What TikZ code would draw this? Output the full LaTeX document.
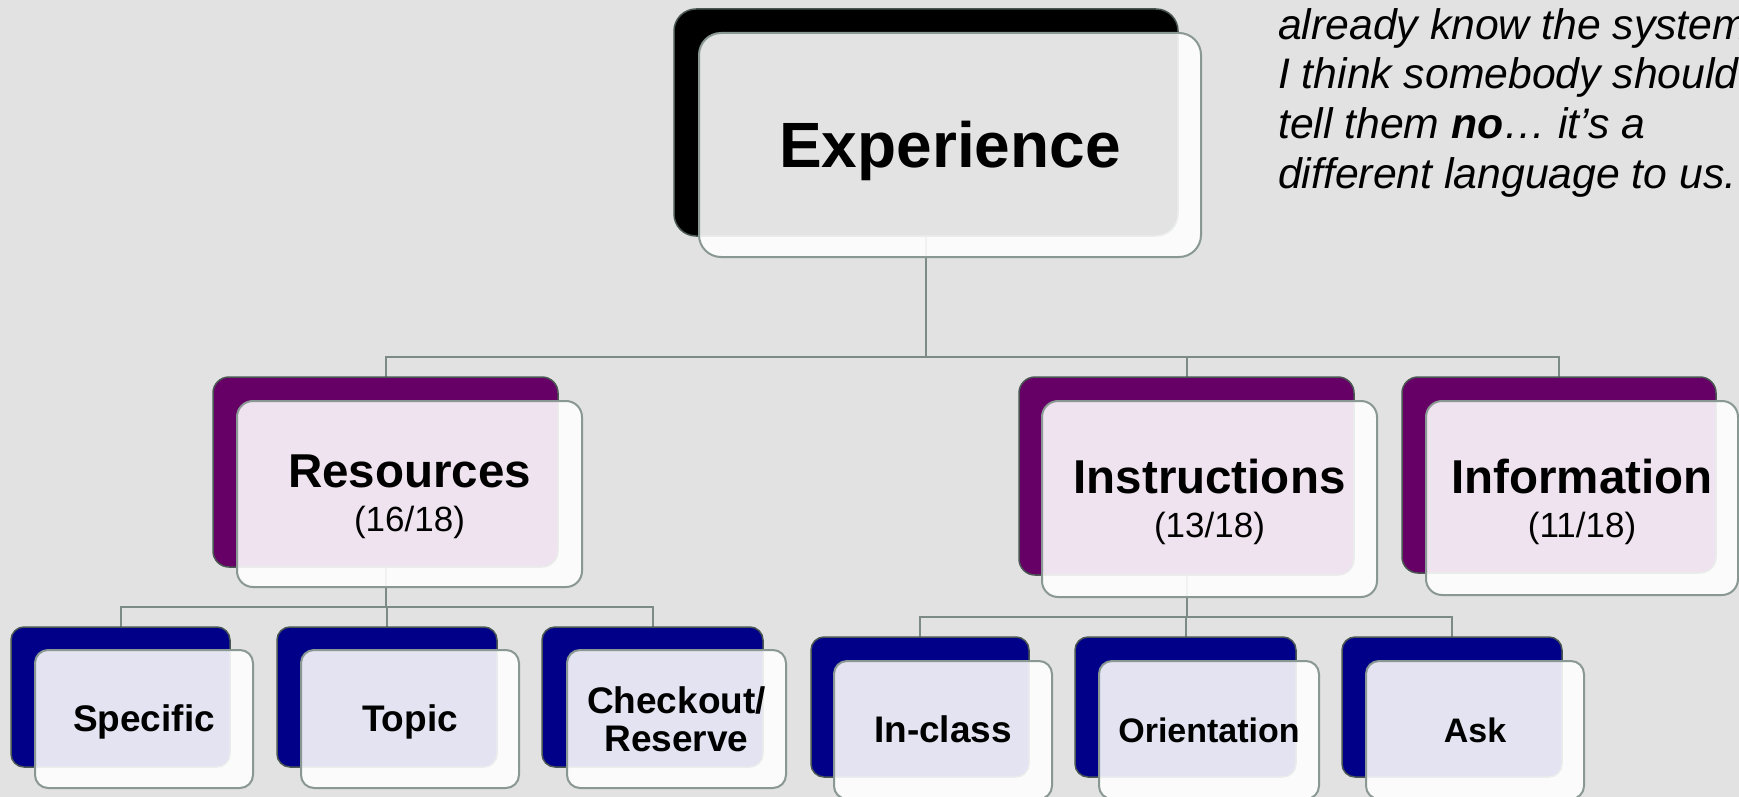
\documentclass[tikz,border=0pt]{standalone}
\usepackage{fontspec}
\setmainfont{Liberation Sans}
\definecolor{paper}{HTML}{E2E2E2}
\definecolor{wire}{HTML}{7D8B86}
\definecolor{rimfront}{HTML}{8A9893}
\definecolor{rimback}{HTML}{4A5753}
\definecolor{plum}{HTML}{660066}
\definecolor{deepblue}{HTML}{000088}
\pgfdeclarelayer{bgpaper}
\pgfdeclarelayer{wires}
\pgfsetlayers{bgpaper,wires,main}
\tikzset{
  backbox/.style={anchor=north west, draw=rimback, line width=1.5pt,
    inner sep=0pt, outer sep=0pt},
  frontbox/.style={anchor=north west, draw=rimfront, line width=2pt,
    fill=white, fill opacity=0.89, inner sep=0pt, outer sep=0pt},
  bigr/.style={rounded corners=22pt},
  midr/.style={rounded corners=16pt},
  leafr/.style={rounded corners=13pt},
  wireline/.style={draw=wire, line width=2pt},
  toptext/.style={anchor=base, inner sep=0pt, font=\fontsize{64}{64}\selectfont\bfseries},
  midtext/.style={anchor=center, inner sep=0pt, align=center,
    font=\fontsize{35}{44}\selectfont},
  leaftext/.style={anchor=base, inner sep=0pt, font=\fontsize{37}{38.3}\selectfont\bfseries},
  quoteline/.style={anchor=base west, inner sep=0pt, font=\fontsize{42.7}{49}\selectfont\itshape}
}
\newcommand{\midhead}[1]{{\fontsize{47.5}{44}\selectfont\bfseries #1}}
\begin{document}
\begin{tikzpicture}[x=1pt,y=-1pt]
\begin{pgfonlayer}{bgpaper}
  \fill[paper] (0,0) rectangle (1739,797);
\end{pgfonlayer}
\useasboundingbox (0,0) rectangle (1739,797);

% quotation, top right
\node[quoteline] (q1) at (1278,39.5) {already know the system};
\node[quoteline] (q2) at (1278,89) {I think somebody should};
\node[quoteline] (q3) at (1278,138.5) {tell them \textbf{no}… it’s a};
\node[quoteline] (q4) at (1278,188) {different language to us.};

% root
\node[backbox, bigr, fill=black, minimum width=504pt, minimum height=227pt] (expback) at (674,9) {};
\node[frontbox, bigr, minimum width=502pt, minimum height=224pt] (expfront) at (699,33) {};
\node[toptext, yshift=-22pt] (exptxt) at (expfront.center) {Experience};

% second level
\node[backbox, midr, fill=plum, minimum width=345pt, minimum height=190pt] (resback) at (213,377) {};
\node[frontbox, midr, minimum width=345pt, minimum height=186pt] (resfront) at (237,401) {};
\node[midtext, yshift=-3pt] (restxt) at (resfront.center) {\midhead{Resources}\\(16/18)};

\node[backbox, midr, fill=plum, minimum width=335pt, minimum height=198pt] (insback) at (1019,377) {};
\node[frontbox, midr, minimum width=335pt, minimum height=196pt] (insfront) at (1042,401) {};
\node[midtext, yshift=-3pt] (instxt) at (insfront.center) {\midhead{Instructions}\\(13/18)};

\node[backbox, midr, fill=plum, minimum width=314pt, minimum height=196pt] (infback) at (1402,377) {};
\node[frontbox, midr, minimum width=312pt, minimum height=194pt] (inffront) at (1426,401) {};
\node[midtext, yshift=-3.5pt] (inftxt) at (inffront.center) {\midhead{Information}\\(11/18)};

% leaves under Resources
\node[backbox, leafr, fill=deepblue, minimum width=219pt, minimum height=140pt] (speback) at (11,627) {};
\node[frontbox, leafr, minimum width=218pt, minimum height=138pt] (spefront) at (35,650) {};
\node[leaftext, yshift=-12.8pt] (spetxt) at (spefront.center) {Specific};

\node[backbox, leafr, fill=deepblue, minimum width=220pt, minimum height=140pt] (topback) at (277,627) {};
\node[frontbox, leafr, minimum width=218pt, minimum height=138pt] (topfront) at (301,650) {};
\node[leaftext, yshift=-12.8pt] (toptxt) at (topfront.center) {Topic};

\node[backbox, leafr, fill=deepblue, minimum width=221pt, minimum height=140pt] (chkback) at (542,627) {};
\node[frontbox, leafr, minimum width=219pt, minimum height=138pt] (chkfront) at (567,650) {};
\node[leaftext, anchor=center, align=center] (chktxt) at (chkfront.center) {Checkout/\\Reserve};

% leaves under Instructions
\node[backbox, leafr, fill=deepblue, minimum width=218pt, minimum height=140pt] (inclback) at (811,637) {};
\node[frontbox, leafr, minimum width=218pt, minimum height=138pt] (inclfront) at (834,661) {};
\node[leaftext, yshift=-12.8pt] (incltxt) at (inclfront.center) {In-class};

\node[backbox, leafr, fill=deepblue, minimum width=221pt, minimum height=140pt] (oriback) at (1075,637) {};
\node[frontbox, leafr, minimum width=220pt, minimum height=138pt] (orifront) at (1099,661) {};
\node[leaftext, yshift=-12pt, font=\fontsize{34}{38}\selectfont\bfseries] (oritxt) at (orifront.center) {Orientation};

\node[backbox, leafr, fill=deepblue, minimum width=220pt, minimum height=140pt] (askback) at (1342,637) {};
\node[frontbox, leafr, minimum width=218pt, minimum height=138pt] (askfront) at (1366,661) {};
\node[leaftext, yshift=-12pt, font=\fontsize{34}{38}\selectfont\bfseries] (asktxt) at (askfront.center) {Ask};

% connectors, kept behind the boxes
\begin{pgfonlayer}{wires}
  \path (expback.south) ++(0,121) coordinate (topbus);
  \path (resback.south) ++(0,40) coordinate (resbus);
  \path (insback.south) ++(0,42) coordinate (insbus);
  \draw[wireline] (expback.south) -- (topbus);
  \draw[wireline] (topbus) -| (resback.north);
  \draw[wireline] (topbus) -| (insback.north);
  \draw[wireline] (topbus) -| (infback.north);
  \draw[wireline] (resback.south) -- (resbus);
  \draw[wireline] (resbus) -| (speback.north);
  \draw[wireline] (resbus) -| (topback.north);
  \draw[wireline] (resbus) -| (chkback.north);
  \draw[wireline] (insback.south) -- (insbus);
  \draw[wireline] (insbus) -| (inclback.north);
  \draw[wireline] (insbus) -| (oriback.north);
  \draw[wireline] (insbus) -| (askback.north);
\end{pgfonlayer}
\end{tikzpicture}
\end{document}
